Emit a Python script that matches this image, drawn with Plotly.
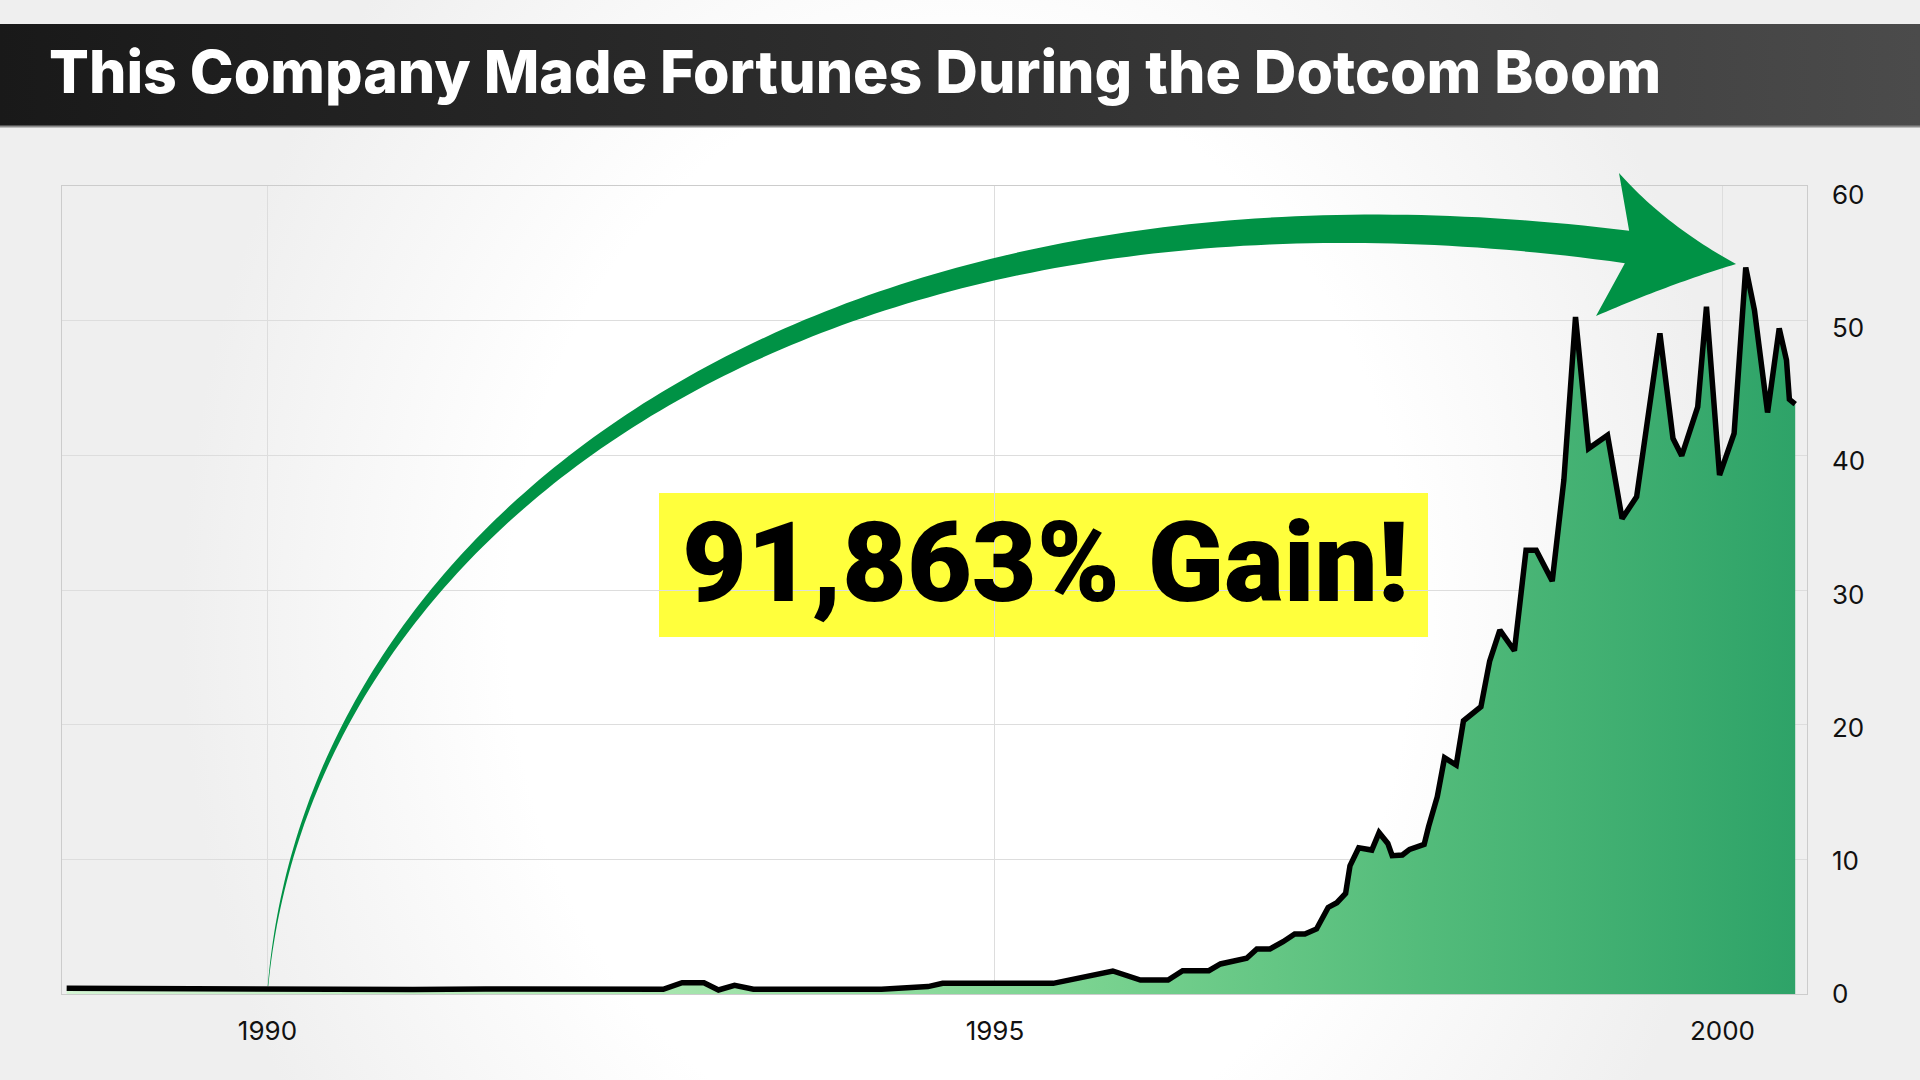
import numpy as np
import plotly.graph_objects as go

# ---------------- data ----------------
years = [1988.62, 1989.0, 1989.5, 1990.0, 1990.5, 1991.0, 1991.5, 1992.0, 1992.3, 1992.72,
         1992.85, 1993.0, 1993.1, 1993.21, 1993.34, 1994.22, 1994.54, 1994.64, 1995.40, 1995.81,
         1996.00, 1996.19, 1996.29, 1996.47, 1996.55, 1996.73, 1996.80, 1996.89, 1996.98, 1997.06,
         1997.13, 1997.21, 1997.29, 1997.35, 1997.41, 1997.425, 1997.44, 1997.50, 1997.59, 1997.64,
         1997.70, 1997.73, 1997.80, 1997.85, 1997.95, 1997.98, 1998.04, 1998.09, 1998.17, 1998.22,
         1998.34, 1998.40, 1998.47, 1998.57, 1998.65, 1998.72, 1998.83, 1998.91, 1998.99, 1999.08,
         1999.21, 1999.31, 1999.41, 1999.57, 1999.66, 1999.72, 1999.83, 1999.89, 1999.98, 2000.08,
         2000.16, 2000.22, 2000.31, 2000.39, 2000.44, 2000.46, 2000.50]
prices = [0.42, 0.40, 0.37, 0.36, 0.35, 0.33, 0.37, 0.38, 0.36, 0.35,
          0.84, 0.84, 0.30, 0.64, 0.35, 0.35, 0.55, 0.79, 0.79, 1.71,
          1.04, 1.04, 1.73, 1.73, 2.23, 2.65, 3.34, 3.34, 3.88, 4.45,
          4.45, 4.83, 6.43, 6.78, 7.47, 8.46, 9.52, 10.86, 10.69, 11.98,
          11.18, 10.27, 10.32, 10.74, 11.11, 12.42, 14.65, 17.54, 17.00, 20.29,
          21.33, 24.72, 27.02, 25.49, 32.96, 32.96, 30.66, 38.16, 50.28, 40.51,
          41.50, 35.30, 36.92, 49.05, 41.25, 39.97, 43.60, 51.03, 38.53, 41.62,
          53.95, 50.78, 43.18, 49.42, 47.07, 44.15, 43.80]
x_ticks = [1990, 1995, 2000]
y_ticks = [0, 10, 20, 30, 40, 50, 60]
title_text = "This Company Made Fortunes During the Dotcom Boom"
gain_text = "91,863% Gain!"

# ---------------- layout geometry ----------------
W, H = 1920, 1080
PL, PR, PT, PB = 62, 1807, 186, 994          # plot area in pixels
XR = [1988.588, 2000.581]
YR = [0, 60]
YLAB_TOP = 60.66


def paper(x, y):
    return x / W, 1 - y / H


def px_to_data(x, y):
    xd = XR[0] + (x - PL) / (PR - PL) * (XR[1] - XR[0])
    yd = YR[0] + (PB - y) / (PB - PT) * (YR[1] - YR[0])
    return xd, yd


fig = go.Figure()

# background glow (full-figure helper axes in pixel units)
cx, cy, rx, ry = 960, 620, 820, 1000
fig.add_trace(go.Scatter(
    x=[cx - rx, cx + rx, cx + rx, cx - rx, cx - rx],
    y=[cy - ry, cy - ry, cy + ry, cy + ry, cy - ry],
    mode="lines", line=dict(width=0), fill="toself",
    fillgradient=dict(type="radial",
                      colorscale=[[0, "#ffffff"], [0.55, "#ffffff"], [0.95, "#efefef"], [1, "#efefef"]]),
    xaxis="x", yaxis="y", hoverinfo="skip", showlegend=False))

# title bar
fig.add_trace(go.Scatter(
    x=[0, W, W, 0, 0], y=[24, 24, 126, 126, 24],
    mode="lines", line=dict(width=0), fill="toself",
    fillgradient=dict(type="horizontal", colorscale=[[0, "#191919"], [0.5, "#303030"], [1, "#4b4b4b"]]),
    xaxis="x", yaxis="y", hoverinfo="skip", showlegend=False))

# price area
fig.add_trace(go.Scatter(
    x=years, y=prices, mode="lines",
    line=dict(color="#000000", width=5.5),
    fill="tozeroy",
    fillgradient=dict(type="horizontal",
                      colorscale=[[0, "#d4f5d4"], [0.31, "#aee8b3"], [0.6, "#78d28f"],
                                  [0.79, "#52bb7a"], [1, "#2ea368"]]),
    xaxis="x2", yaxis="y2", hoverinfo="skip", showlegend=False))

# carrier for the right-hand value labels axis (invisible)
fig.add_trace(go.Scatter(
    x=[x_ticks[0]], y=[y_ticks[0]], mode="markers", marker=dict(size=1, opacity=0),
    xaxis="x2", yaxis="y3", hoverinfo="skip", showlegend=False))

# ---------------- arrow shape ----------------
P0 = np.array([268.0, 986.0])
P1 = np.array([310.0, 520.0])
P2 = np.array([820.0, 140.0])
P3 = np.array([1627.0, 247.0])
ts = np.linspace(0, 1, 160)
B = ((1 - ts) ** 3)[:, None] * P0 + (3 * (1 - ts) ** 2 * ts)[:, None] * P1 + \
    (3 * (1 - ts) * ts ** 2)[:, None] * P2 + (ts ** 3)[:, None] * P3
D = (3 * (1 - ts) ** 2)[:, None] * (P1 - P0) + (6 * (1 - ts) * ts)[:, None] * (P2 - P1) + \
    (3 * ts ** 2)[:, None] * (P3 - P2)
D = D / np.linalg.norm(D, axis=1)[:, None]
N = np.stack([-D[:, 1], D[:, 0]], axis=1)
wid = 0.6 + 32 * ts ** 1.15
outer = B - N * (wid / 2)[:, None]
inner = B + N * (wid / 2)[:, None]


def qcurve(a, c, b, n=30):
    a, c, b = map(np.array, (a, c, b))
    s = np.linspace(0, 1, n)[:, None]
    return (1 - s) ** 2 * a + 2 * (1 - s) * s * c + s ** 2 * b


head1 = qcurve((1619, 173), (1665, 225), (1736, 264))
head2 = qcurve((1736, 264), (1670, 284), (1596, 316))
poly = list(outer) + list(head1) + list(head2) + list(inner[::-1])
path = ""
for i, (x, y) in enumerate(poly):
    X, Y = paper(x, y)
    path += ("M" if i == 0 else "L") + f"{X:.5f},{Y:.5f} "
path += "Z"

shapes = []
# yellow box (below grid lines of the chart)
bx0, by0 = px_to_data(659, 637)
bx1, by1 = px_to_data(1428, 493)
shapes.append(dict(type="rect", xref="x2", yref="y2", x0=bx0, x1=bx1, y0=by0, y1=by1,
                   fillcolor="#ffff3c", line=dict(width=0), layer="below"))
shapes.append(dict(type="path", xref="paper", yref="paper", path=path,
                   fillcolor="#009245", line=dict(width=0), layer="above"))
# bar bottom edge
sx0, sy0 = paper(0, 126.5)
sx1, _ = paper(W, 126.5)
shapes.append(dict(type="line", xref="paper", yref="paper", x0=sx0, x1=sx1, y0=sy0, y1=sy0,
                   line=dict(color="#8c8c8c", width=2), layer="above"))

tx, ty = paper(47, 72)
gx, gy = paper(1045, 562)
annotations = [
    dict(text=title_text, xref="paper", yref="paper", x=tx, y=ty, xanchor="left", yanchor="middle",
         showarrow=False, font=dict(family="Inter", size=59, color="#ffffff", weight=800)),
    dict(text=gain_text, xref="paper", yref="paper", x=gx, y=gy, xanchor="center", yanchor="middle",
         showarrow=False, font=dict(family="Roboto", size=112, color="#000000", weight=900)),
]

tickfont = dict(family="Inter", size=26, color="#111111")
fig.update_layout(
    width=W, height=H, margin=dict(l=0, r=0, t=0, b=0, autoexpand=False),
    paper_bgcolor="#efefef", plot_bgcolor="rgba(0,0,0,0)",
    showlegend=False,
    xaxis=dict(domain=[0, 1], range=[0, W], visible=False, fixedrange=True, automargin=False),
    yaxis=dict(domain=[0, 1], range=[H, 0], visible=False, fixedrange=True, automargin=False),
    xaxis2=dict(domain=[PL / W, PR / W], anchor="y2", range=XR, tickvals=x_ticks,
                showgrid=True, gridcolor="#dddddd", gridwidth=1, zeroline=False,
                showline=True, mirror=True, linecolor="#cccccc", linewidth=1, automargin=False,
                ticks="", tickfont=tickfont, ticklabelstandoff=14),
    yaxis2=dict(domain=[1 - PB / H, 1 - PT / H], anchor="x2", range=YR, tickvals=y_ticks,
                showgrid=True, gridcolor="#dddddd", gridwidth=1, zeroline=False,
                showline=True, mirror=True, linecolor="#cccccc", linewidth=1, automargin=False,
                showticklabels=False, ticks=""),
    yaxis3=dict(overlaying="y2", anchor="x2", side="right", range=[0, YLAB_TOP], tickvals=y_ticks,
                showgrid=False, zeroline=False, showline=False, ticks="", automargin=False,
                tickfont=tickfont, ticklabelstandoff=24),
    shapes=shapes, annotations=annotations,
)

fig.write_html("out.html", config={"displayModeBar": False},
               post_script="document.body.style.margin='0';document.body.style.overflow='hidden';")
